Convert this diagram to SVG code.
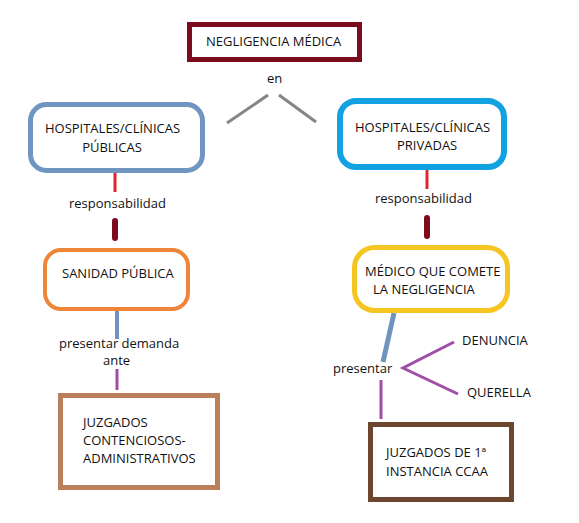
<svg xmlns="http://www.w3.org/2000/svg" width="579" height="523" viewBox="0 0 579 523">
<style>
text{font-family:"Open Sans","Liberation Sans",sans-serif;font-size:13px;fill:#111}
.box{fill:#fff}
.ln{fill:none;stroke-linecap:butt}
</style>
<rect width="579" height="523" fill="#fff"/>
<g id="connectors">
<line class="ln" x1="227" y1="123" x2="268" y2="95" stroke="#858585" stroke-width="3"/>
<line class="ln" x1="279" y1="95" x2="316" y2="122" stroke="#858585" stroke-width="3"/>
<line class="ln" x1="115" y1="173" x2="115" y2="192" stroke="#e02535" stroke-width="3"/>
<line x1="115" y1="221" x2="115" y2="238" stroke="#7e0a1e" stroke-width="6" stroke-linecap="round"/>
<line class="ln" x1="427" y1="168" x2="427" y2="189" stroke="#e02535" stroke-width="3"/>
<line x1="427" y1="218" x2="427" y2="236" stroke="#7e0a1e" stroke-width="6" stroke-linecap="round"/>
<line class="ln" x1="117" y1="311" x2="117" y2="339" stroke="#7194bf" stroke-width="4"/>
<line class="ln" x1="117" y1="369" x2="117" y2="390" stroke="#a04ea6" stroke-width="3"/>
<line class="ln" x1="394" y1="313" x2="383" y2="362" stroke="#7194bf" stroke-width="5"/>
<polyline class="ln" points="454,342 403,368 458,394" stroke="#a04ea6" stroke-width="3"/>
<line class="ln" x1="381" y1="380" x2="381" y2="419" stroke="#a04ea6" stroke-width="3"/>
</g>
<g id="negligencia">
<rect class="box" x="189.5" y="24.5" width="170" height="35" stroke="#7b0c1e" stroke-width="5"/>
<text x="206" y="46">NEGLIGENCIA MÉDICA</text>
</g>
<text x="267" y="83">en</text>
<g id="publicas">
<rect class="box" x="30.5" y="104.5" width="172" height="66" rx="16" stroke="#7195c1" stroke-width="5"/>
<text x="112.5" y="133" text-anchor="middle">HOSPITALES/CLÍNICAS</text>
<text x="112" y="152" text-anchor="middle">PÚBLICAS</text>
</g>
<g id="privadas">
<rect class="box" x="340" y="101" width="164" height="66" rx="16" stroke="#12a2e2" stroke-width="6"/>
<text x="355" y="132">HOSPITALES/CLÍNICAS</text>
<text x="397" y="150">PRIVADAS</text>
</g>
<text x="69" y="208">responsabilidad</text>
<text x="375" y="203">responsabilidad</text>
<g id="sanidad">
<rect class="box" x="45" y="250" width="143" height="59" rx="16" stroke="#ee8538" stroke-width="4"/>
<text x="62" y="278">SANIDAD PÚBLICA</text>
</g>
<text x="59" y="348">presentar demanda</text>
<text x="103" y="364.5">ante</text>
<g id="medico">
<rect class="box" x="354.5" y="247.5" width="153" height="63" rx="20" stroke="#f5c622" stroke-width="5"/>
<text x="365" y="276">MÉDICO QUE COMETE</text>
<text x="373" y="294">LA NEGLIGENCIA</text>
</g>
<text x="333" y="373">presentar</text>
<text x="462" y="345">DENUNCIA</text>
<text x="467" y="397">QUERELLA</text>
<g id="contenciosos">
<rect class="box" x="60.5" y="395.5" width="157" height="92" stroke="#bb7f5b" stroke-width="5"/>
<text x="83" y="427">JUZGADOS</text>
<text x="83" y="445">CONTENCIOSOS-</text>
<text x="83" y="463">ADMINISTRATIVOS</text>
</g>
<g id="primera">
<rect class="box" x="370.5" y="424.5" width="141" height="75" stroke="#6d4630" stroke-width="5"/>
<text x="386" y="457">JUZGADOS DE 1ª</text>
<text x="386" y="476">INSTANCIA CCAA</text>
</g>
</svg>
